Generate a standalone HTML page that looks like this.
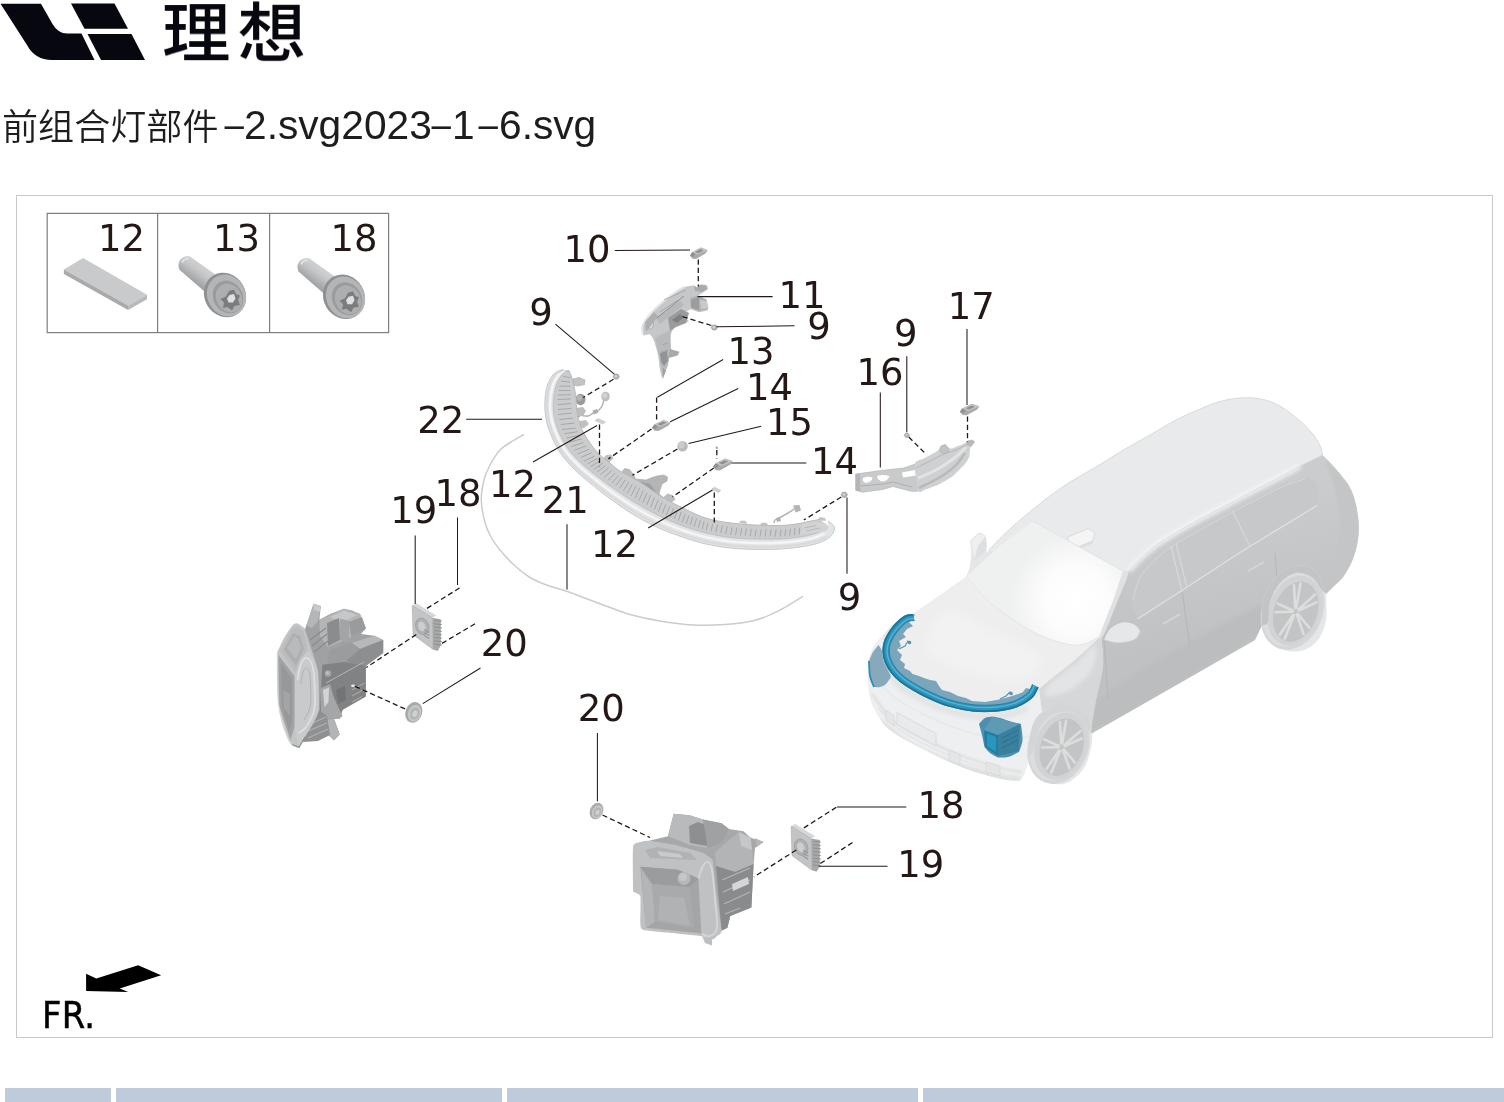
<!DOCTYPE html>
<html lang="zh-CN">
<head>
<meta charset="utf-8">
<title>前组合灯部件</title>
<style>
html,body{margin:0;padding:0;background:#fff;}
body{width:1504px;height:1102px;position:relative;overflow:hidden;font-family:"Liberation Sans","Noto Sans CJK SC",sans-serif;}
#logo{position:absolute;left:0;top:0;}
#brand{position:absolute;left:161.5px;top:-13px;font-family:"Liberation Sans","Noto Sans CJK SC",sans-serif;font-weight:500;font-size:68.5px;letter-spacing:7px;color:#07070f;line-height:100px;white-space:nowrap;transform:scaleY(0.95);transform-origin:0 0;}
#title{position:absolute;left:0;top:96px;height:56px;width:700px;color:#1d1d1f;}
#title span{position:absolute;top:0;line-height:56px;white-space:nowrap;}
#title .cjk{font-family:"Liberation Sans","Noto Sans CJK SC",sans-serif;font-weight:350;font-size:36.1px;top:4px;}
#title .lat{font-family:"Liberation Sans",sans-serif;font-size:40.7px;top:1px;}
#title .hy{font-family:"Liberation Sans",sans-serif;font-size:40.7px;top:1px;transform:scale(1.95,0.8);transform-origin:0 60%;}
#frame{position:absolute;left:16px;top:195px;width:1475px;height:841px;border:1px solid #c9c9c9;}
#dia{position:absolute;left:0;top:0;will-change:transform;}
#title,#brand{will-change:transform;}
.th{position:absolute;top:1088px;height:20px;background:#bfcbdb;}
svg text{font-family:"DejaVu Sans",sans-serif;font-size:37.7px;fill:#231815;}
</style>
</head>
<body>
<svg id="logo" width="160" height="70" viewBox="0 0 160 70">
<g fill="#07070f">
<path d="M0.5 3.7 L41 3.7 L52.5 24 Q58 33.5 67 33.5 L81.5 33.5 L94.5 60 L52 60 Q35 60 27 45 Z"/>
<path d="M71 3.5 L114.5 3.5 L128 28.7 L84.5 28.7 Z"/>
<path d="M87.5 34 L131.5 34 L145 60 L101 60 Z"/>
</g>
</svg>
<div id="brand">理想</div>
<div id="title"><span class="cjk" style="left:2px">前组合灯部件</span><span class="hy" style="left:221px">-</span><span class="lat" style="left:244px">2.svg2023</span><span class="hy" style="left:428px">-</span><span class="lat" style="left:452px">1</span><span class="hy" style="left:475px">-</span><span class="lat" style="left:499px">6.svg</span></div>
<div id="frame"></div>
<div class="th" style="left:5px;width:106px"></div>
<div class="th" style="left:116px;width:386px"></div>
<div class="th" style="left:507px;width:411px"></div>
<div class="th" style="left:922.5px;width:581px"></div>

<svg id="dia" width="1504" height="1102" viewBox="0 0 1504 1102">
<defs>
<filter id="b05" x="-10%" y="-10%" width="120%" height="120%"><feGaussianBlur stdDeviation="0.5"/></filter>
<filter id="b1" x="-10%" y="-10%" width="120%" height="120%"><feGaussianBlur stdDeviation="1"/></filter>
<filter id="b2" x="-20%" y="-20%" width="140%" height="140%"><feGaussianBlur stdDeviation="2.2"/></filter>
<filter id="b4" x="-30%" y="-30%" width="160%" height="160%"><feGaussianBlur stdDeviation="4.500"/></filter>
<filter id="b8" x="-40%" y="-40%" width="180%" height="180%"><feGaussianBlur stdDeviation="9"/></filter>
<radialGradient id="wsg" gradientUnits="userSpaceOnUse" cx="1076" cy="600" r="66"><stop offset="0" stop-color="#ffffff"/><stop offset="0.5" stop-color="#fcfcfc"/><stop offset="1" stop-color="#eff0f0"/></radialGradient>
<linearGradient id="sideg" gradientUnits="userSpaceOnUse" x1="1200" y1="500" x2="1230" y2="640"><stop offset="0" stop-color="#cbcccd"/><stop offset="1" stop-color="#c0c1c2"/></linearGradient>
<linearGradient id="shaftg" gradientUnits="userSpaceOnUse" x1="203" y1="264" x2="192" y2="279"><stop offset="0" stop-color="#d2d3d4"/><stop offset="0.45" stop-color="#c6c7c8"/><stop offset="1" stop-color="#a4a5a6"/></linearGradient>
</defs>
<g id="car"><clipPath id="carclip"><path d="M988.5 550.3C991.9 546.9 1001 537.1 1008.9 529.9C1016.8 522.6 1027 514.1 1036.1 506.8C1045.2 499.5 1054.3 492.4 1063.4 486.3C1072.5 480.2 1084.5 473.6 1090.6 470C1096.7 466.4 1094.3 468 1100 464.5C1105.7 461 1116.7 453.9 1125 449C1133.3 444.1 1141.7 439.8 1150 435C1158.3 430.2 1166.7 424.8 1175 420.5C1183.3 416.2 1192.5 412.2 1200 409C1207.5 405.8 1213.3 403.3 1220 401.5C1226.7 399.7 1233.3 398.4 1240 398C1246.7 397.6 1253.3 397.5 1260 398.8C1266.7 400.1 1273.3 402.3 1280 406C1286.7 409.7 1294.6 416.4 1300 421C1305.4 425.6 1309.2 429.7 1312.5 433.8C1315.8 437.9 1318.3 442 1320 445.5C1321.7 449 1322.1 453.4 1322.5 455C1323.8 456.2 1327.1 459.4 1330 462.5C1332.9 465.6 1336.7 469.6 1340 473.8C1343.3 478 1347.3 482.3 1350 487.5C1352.7 492.7 1354.5 498.8 1356 505C1357.5 511.2 1358.5 518.8 1358.8 525C1359 531.2 1358.5 536.7 1357.5 542.5C1356.5 548.3 1354.8 554.4 1352.5 560C1350.2 565.6 1347.1 571.4 1343.8 576C1340.5 580.6 1335.5 584.5 1332.5 587.5C1329.5 590.5 1327.1 592.9 1326 594C1326 598.3 1327.3 612.3 1326 620C1324.7 627.7 1321.8 634.9 1318 640C1314.2 645.1 1308.5 648.8 1303 650.5C1297.5 652.2 1290.5 651.8 1285 650C1279.5 648.2 1273.8 644.2 1270 640C1266.2 635.8 1263.3 627.5 1262 625L1255 640L1092.5 733C1092.2 735.5 1092.4 742.2 1091 748C1089.6 753.8 1087.8 762.2 1084 768C1080.2 773.8 1073.7 780 1068 782.5C1062.3 785 1055.3 784.8 1050 783C1044.7 781.2 1039.4 776.3 1036 772C1032.6 767.7 1030.6 759.5 1029.5 757C1028.8 759.6 1026.6 768.5 1025 772.5C1023.4 776.5 1020.8 779.6 1020 781C1016.7 780.6 1009.6 781 1000 778.8C990.4 776.5 975 772.3 962.5 767.5C950 762.7 937.1 756.2 925 750C912.9 743.8 898.3 736.7 890 730C881.7 723.3 878.5 716.7 875 710C871.5 703.3 869.9 698.2 868.8 690C867.7 681.8 868.5 665.8 868.5 661C869.2 658.8 870.7 652.2 873 648C875.3 643.8 878.8 640.2 882.5 636C886.2 631.8 890 626.1 895 622.5C900 618.9 909.6 615.8 912.5 614.5L966 577C966.7 575.2 969.1 570.8 970 566C970.9 561.2 971.3 552.2 971.5 548C971.7 543.8 970.3 543 971 541C971.7 539 974 537.3 975.5 536C977 534.7 978.7 533.2 980.3 533.3C981.9 533.4 984 534.5 985 536.5C986 538.5 986.2 542.6 986.3 545C986.4 547.4 985.4 549.9 985.8 551C986.2 552.1 988 551.4 988.5 551.5L988.5 550.3Z" /></clipPath>
<path d="M988.5 550.3C991.9 546.9 1001 537.1 1008.9 529.9C1016.8 522.6 1027 514.1 1036.1 506.8C1045.2 499.5 1054.3 492.4 1063.4 486.3C1072.5 480.2 1084.5 473.6 1090.6 470C1096.7 466.4 1094.3 468 1100 464.5C1105.7 461 1116.7 453.9 1125 449C1133.3 444.1 1141.7 439.8 1150 435C1158.3 430.2 1166.7 424.8 1175 420.5C1183.3 416.2 1192.5 412.2 1200 409C1207.5 405.8 1213.3 403.3 1220 401.5C1226.7 399.7 1233.3 398.4 1240 398C1246.7 397.6 1253.3 397.5 1260 398.8C1266.7 400.1 1273.3 402.3 1280 406C1286.7 409.7 1294.6 416.4 1300 421C1305.4 425.6 1309.2 429.7 1312.5 433.8C1315.8 437.9 1318.3 442 1320 445.5C1321.7 449 1322.1 453.4 1322.5 455C1323.8 456.2 1327.1 459.4 1330 462.5C1332.9 465.6 1336.7 469.6 1340 473.8C1343.3 478 1347.3 482.3 1350 487.5C1352.7 492.7 1354.5 498.8 1356 505C1357.5 511.2 1358.5 518.8 1358.8 525C1359 531.2 1358.5 536.7 1357.5 542.5C1356.5 548.3 1354.8 554.4 1352.5 560C1350.2 565.6 1347.1 571.4 1343.8 576C1340.5 580.6 1335.5 584.5 1332.5 587.5C1329.5 590.5 1327.1 592.9 1326 594C1326 598.3 1327.3 612.3 1326 620C1324.7 627.7 1321.8 634.9 1318 640C1314.2 645.1 1308.5 648.8 1303 650.5C1297.5 652.2 1290.5 651.8 1285 650C1279.5 648.2 1273.8 644.2 1270 640C1266.2 635.8 1263.3 627.5 1262 625L1255 640L1092.5 733C1092.2 735.5 1092.4 742.2 1091 748C1089.6 753.8 1087.8 762.2 1084 768C1080.2 773.8 1073.7 780 1068 782.5C1062.3 785 1055.3 784.8 1050 783C1044.7 781.2 1039.4 776.3 1036 772C1032.6 767.7 1030.6 759.5 1029.5 757C1028.8 759.6 1026.6 768.5 1025 772.5C1023.4 776.5 1020.8 779.6 1020 781C1016.7 780.6 1009.6 781 1000 778.8C990.4 776.5 975 772.3 962.5 767.5C950 762.7 937.1 756.2 925 750C912.9 743.8 898.3 736.7 890 730C881.7 723.3 878.5 716.7 875 710C871.5 703.3 869.9 698.2 868.8 690C867.7 681.8 868.5 665.8 868.5 661C869.2 658.8 870.7 652.2 873 648C875.3 643.8 878.8 640.2 882.5 636C886.2 631.8 890 626.1 895 622.5C900 618.9 909.6 615.8 912.5 614.5L966 577C966.7 575.2 969.1 570.8 970 566C970.9 561.2 971.3 552.2 971.5 548C971.7 543.8 970.3 543 971 541C971.7 539 974 537.3 975.5 536C977 534.7 978.7 533.2 980.3 533.3C981.9 533.4 984 534.5 985 536.5C986 538.5 986.2 542.6 986.3 545C986.4 547.4 985.4 549.9 985.8 551C986.2 552.1 988 551.4 988.5 551.5L988.5 550.3Z" fill="#e5e6e7"/>
<path d="M1322.5 455C1318.8 456.8 1307.9 461.9 1300 466C1292.1 470.1 1283.3 475.1 1275 479.5C1266.7 483.9 1258.3 488.1 1250 492.5C1241.7 496.9 1233.3 501.4 1225 505.8C1216.7 510.2 1208.3 514.3 1200 518.8C1191.7 523.3 1182.5 528.5 1175 533C1167.5 537.5 1160.8 541.7 1155 546C1149.2 550.3 1144.4 554.6 1140 558.8C1135.6 563 1131.6 567.5 1128.8 571C1126 574.5 1124 578.5 1123 580C1121.7 582.9 1118 590.8 1115 597.5C1112 604.2 1107.3 613.6 1105 620C1102.7 626.4 1101.7 633.3 1101 636C1101.3 640.8 1103.8 654.3 1103 665C1102.2 675.7 1098 688.7 1096 700C1094 711.3 1091.8 727.5 1091 733L1092.5 733L1255 640L1262 625C1262.2 620.8 1260.8 607.9 1263 600C1265.2 592.1 1269.7 583.2 1275 577.5C1280.3 571.8 1288.3 567.2 1295 566C1301.7 564.8 1309.8 565.3 1315 570C1320.2 574.7 1324.2 590 1326 594L1326 594C1327.1 592.9 1329.5 590.5 1332.5 587.5C1335.5 584.5 1340.5 580.6 1343.8 576C1347.1 571.4 1350.2 565.6 1352.5 560C1354.8 554.4 1356.5 548.3 1357.5 542.5C1358.5 536.7 1359 531.2 1358.8 525C1358.5 518.8 1357.5 511.2 1356 505C1354.5 498.8 1352.7 492.7 1350 487.5C1347.3 482.3 1343.3 478 1340 473.8C1336.7 469.6 1332.9 465.6 1330 462.5C1327.1 459.4 1323.8 456.2 1322.5 455Z" fill="url(#sideg)"/>
<g clip-path="url(#carclip)"><g filter="url(#b2)"><path d="M1110 690C1135.7 670.3 1224.7 623 1250 610C1275.3 597 1261 607.7 1262 612C1263 616.3 1283.7 616.7 1256 636C1228.3 655.3 1120.3 719 1096 728C1071.7 737 1084.3 709.7 1110 690Z" fill="#bcbdbe"/></g></g>
<g clip-path="url(#carclip)" filter="url(#b1)"><path d="M1326 462C1326.8 459.3 1336 469.7 1340 474C1344 478.3 1347.3 482.8 1350 488C1352.7 493.2 1354.7 498.8 1356 505C1357.3 511.2 1357.8 518.8 1358 525C1358.2 531.2 1358 536.2 1357 542C1356 547.8 1354.2 554.3 1352 560C1349.8 565.7 1347 571.7 1344 576C1341 580.3 1335.3 588.7 1334 586C1332.7 583.3 1335 571 1336 560C1337 549 1340.2 531.7 1340 520C1339.8 508.3 1337.3 499.7 1335 490C1332.7 480.3 1325.2 464.7 1326 462Z" fill="#c4c5c6"/></g>
<path d="M1137.5 619C1136.4 615.8 1130.6 607.3 1131 600C1131.4 592.7 1135.5 582.3 1140 575C1144.5 567.7 1152.6 561 1158 556C1163.4 551 1165.5 549.5 1172.5 545C1179.5 540.5 1190.4 534.4 1200 529C1209.6 523.6 1220 517.8 1230 512.5C1240 507.2 1250.8 501.7 1260 497C1269.2 492.3 1277.5 487.7 1285 484.5C1292.5 481.3 1299.8 478.4 1305 478C1310.2 477.6 1313.8 478.8 1316 482C1318.2 485.2 1318.1 494.5 1318.5 497L1317 505C1304.2 512.9 1263.7 537.5 1240 552.5C1216.3 567.5 1185.8 587.9 1175 595L1137.5 619Z" fill="#c7c8c9"/>
<path d="M1137.5 619L1175 595L1240 552.500L1317 505.500" fill="none" stroke="#dfe0e0" stroke-width="1.4"/>
<path d="M1133 600C1134.3 596 1136.8 583.2 1141 576C1145.2 568.8 1152.8 562 1158 557C1163.2 552 1165.5 550.5 1172.5 546C1179.5 541.5 1190.4 535.4 1200 530C1209.6 524.6 1220 518.8 1230 513.5C1240 508.2 1250.8 502.7 1260 498C1269.2 493.3 1277.5 488.7 1285 485.5C1292.5 482.3 1301.7 480.1 1305 479" fill="none" stroke="#d6d7d8" stroke-width="1"/>
<path d="M1171 545.500L1182 591.500M1176 543L1187 588M1232.500 511L1250 546.500" fill="none" stroke="#d9dadb" stroke-width="1.1"/>
<path d="M1182.5 592L1186 620L1190 646M1275 553L1277 580M1104 640L1108 700" fill="none" stroke="#b5b6b7" stroke-width="1"/>
<path d="M1163 624L1180 614M1248 571L1264 562" fill="none" stroke="#d4d5d6" stroke-width="2"/>
<path d="M988.5 550.3C991.9 546.9 1001 537.1 1008.9 529.9C1016.8 522.6 1027 514.1 1036.1 506.8C1045.2 499.5 1054.3 492.4 1063.4 486.3C1072.5 480.2 1084.5 473.6 1090.6 470C1096.7 466.4 1094.3 468 1100 464.5C1105.7 461 1116.7 453.9 1125 449C1133.3 444.1 1141.7 439.8 1150 435C1158.3 430.2 1166.7 424.8 1175 420.5C1183.3 416.2 1192.5 412.2 1200 409C1207.5 405.8 1213.3 403.3 1220 401.5C1226.7 399.7 1233.3 398.4 1240 398C1246.7 397.6 1253.3 397.5 1260 398.8C1266.7 400.1 1273.3 402.3 1280 406C1286.7 409.7 1294.6 416.4 1300 421C1305.4 425.6 1309.2 429.7 1312.5 433.8C1315.8 437.9 1318.3 442 1320 445.5C1321.7 449 1322.1 453.4 1322.5 455C1318.8 456.8 1307.9 461.9 1300 466C1292.1 470.1 1283.3 475.1 1275 479.5C1266.7 483.9 1258.3 488.1 1250 492.5C1241.7 496.9 1233.3 501.4 1225 505.8C1216.7 510.2 1208.3 514.3 1200 518.8C1191.7 523.3 1182.5 528.5 1175 533C1167.5 537.5 1160.8 541.7 1155 546C1149.2 550.3 1144.4 554.6 1140 558.8C1135.6 563 1131.6 567.5 1128.8 571C1126 574.5 1124 578.5 1123 580L988.5 550.3Z" fill="#e9eaeb"/>
<g filter="url(#b2)"><path d="M1300 466C1295.8 468.2 1283.3 475.1 1275 479.5C1266.7 483.9 1258.3 488.1 1250 492.5C1241.7 496.9 1233.3 501.4 1225 505.8C1216.7 510.2 1208.3 514.3 1200 518.8C1191.7 523.3 1182.5 528.5 1175 533C1167.5 537.5 1160.8 541.7 1155 546C1149.2 550.3 1144.4 554.6 1140 558.8C1135.6 563 1130.7 569 1128.8 571" fill="none" stroke="#f4f4f5" stroke-width="5"/></g>
<path d="M1322.5 455C1318.8 456.8 1307.9 461.9 1300 466C1292.1 470.1 1283.3 475.1 1275 479.5C1266.7 483.9 1258.3 488.1 1250 492.5C1241.7 496.9 1233.3 501.4 1225 505.8C1216.7 510.2 1208.3 514.3 1200 518.8C1191.7 523.3 1182.5 528.5 1175 533C1167.5 537.5 1160.8 541.7 1155 546C1149.2 550.3 1144.4 554.6 1140 558.8C1135.6 563 1131.6 567.5 1128.8 571C1126 574.5 1124 578.5 1123 580" fill="none" stroke="#d9dadb" stroke-width=".8"/>
<path d="M988.5 550.3C991.9 546.9 1001 537.1 1008.9 529.9C1016.8 522.6 1027 514.1 1036.1 506.8C1045.2 499.5 1054.3 492.4 1063.4 486.3C1072.5 480.2 1084.5 473.6 1090.6 470C1096.7 466.4 1094.3 468 1100 464.5C1105.7 461 1116.7 453.9 1125 449C1133.3 444.1 1141.7 439.8 1150 435C1158.3 430.2 1166.7 424.8 1175 420.5C1183.3 416.2 1192.5 412.2 1200 409C1207.5 405.8 1213.3 403.3 1220 401.5C1226.7 399.7 1233.3 398.4 1240 398C1246.7 397.6 1253.3 397.5 1260 398.8C1266.7 400.1 1273.3 402.3 1280 406C1286.7 409.7 1294.6 416.4 1300 421C1305.4 425.6 1309.2 429.7 1312.5 433.8C1315.8 437.9 1318.3 442 1320 445.5C1321.7 449 1322.1 453.4 1322.5 455" fill="none" stroke="#d4d5d6" stroke-width=".8"/>
<path d="M1068 537L1088 528.500L1095 533L1092.500 541L1079 546.500L1068.500 542Z" fill="#f5f5f6" stroke="#d6d7d8" stroke-width=".8"/>
<path d="M1068.500 542L1079 546.500L1092.500 541L1092.500 543.500L1079 549L1068.500 544.500Z" fill="#dcdddd"/>
<path d="M966.5 576.5C972.1 571.4 988.8 555.2 1000 546C1011.2 536.8 1027.9 525.6 1033.5 521.5L1123 571C1121.2 576.5 1116 593 1112 604C1108 615 1101.2 631.5 1099 637C1095.8 638.3 1087.3 644.3 1080 645C1072.7 645.7 1064.2 643.9 1055 641C1045.8 638.1 1035.8 633.9 1025 627.5C1014.2 621.1 999.8 611 990 602.5C980.2 594 970.4 580.8 966.5 576.5Z" fill="url(#wsg)"/>
<path d="M1033.500 521.500L1123 571" fill="none" stroke="#e3e4e5" stroke-width="1"/>
<path d="M966.5 576.5C970.4 580.8 980.2 594 990 602.5C999.8 611 1014.2 621.1 1025 627.5C1035.8 633.9 1045.8 638.1 1055 641C1064.2 643.9 1072.7 645.7 1080 645C1087.3 644.3 1095.8 638.3 1099 637" fill="none" stroke="#e4e5e6" stroke-width="1"/>
<path d="M1123 571C1123.8 571.5 1128.8 569.2 1128 574C1127.2 578.8 1121.7 590.7 1118 600C1114.3 609.3 1108.8 623.5 1106 630C1103.2 636.5 1101.8 637.5 1101 639L1099 637C1101.2 631.5 1108 615 1112 604C1116 593 1121.2 576.5 1123 571Z" fill="#e0e1e2"/>
<path d="M966.5 577C970.4 581.3 980.2 594.5 990 603C999.8 611.5 1014.2 621.6 1025 628C1035.8 634.4 1045.8 638.6 1055 641.5C1064.2 644.4 1072.7 646.1 1080 645.5C1087.3 644.9 1095.8 639.2 1099 638C1095 641.7 1083.2 653 1075 660C1066.8 667 1056 675.2 1050 680C1044 684.8 1040.8 687.5 1039 689C1037.5 691.2 1036.5 698.3 1030 702C1023.5 705.7 1009.7 709.5 1000 711C990.3 712.5 980.8 711.8 972 711C963.2 710.2 955.3 708.5 947 706C938.7 703.5 930.3 700.3 922 696C913.7 691.7 903.2 685.7 897 680C890.8 674.3 887.3 668 885 662C882.7 656 881.8 649.7 883 644C884.2 638.3 888.5 632.6 892 628C895.5 623.4 900.6 618.8 904 616.5C907.4 614.2 911.1 614.8 912.5 614.5L966.5 577Z" fill="#eeeeef"/>
<g filter="url(#b4)"><path d="M950 610C960.8 607.5 975 622.5 990 630C1005 637.5 1035 646.7 1040 655C1045 663.3 1033.3 677.5 1020 680C1006.7 682.5 975.8 675.8 960 670C944.2 664.2 926.7 655 925 645C923.3 635 939.2 612.5 950 610Z" fill="#f2f2f3"/></g>
<path d="M1099 638L1101 639C1101.3 643.3 1103.8 654.8 1103 665C1102.2 675.2 1098 688.7 1096 700C1094 711.3 1091.8 727.5 1091 733C1090 730 1088.5 719.7 1085 715C1081.5 710.3 1075.8 706.2 1070 705C1064.2 703.8 1054.7 706.3 1050 707.5C1045.3 708.7 1043.3 711.2 1042 712L1039 689C1040.8 687.5 1044 684.8 1050 680C1056 675.2 1066.8 667 1075 660C1083.2 653 1095 641.7 1099 638Z" fill="#d6d7d8"/>
<g filter="url(#b2)"><path d="M1095 645C1093 643.3 1087.5 653.5 1080 660C1072.5 666.5 1055.7 678 1050 684C1044.3 690 1042.7 695 1046 696C1049.3 697 1062.3 694.3 1070 690C1077.7 685.7 1087.8 677.5 1092 670C1096.2 662.5 1097 646.7 1095 645Z" fill="#e3e4e5"/></g>
<path d="M868.5 661C869.2 658.8 870.7 652.2 873 648C875.3 643.8 880.8 636.7 882.5 636C884.2 635.3 882.6 639.7 883 644C883.4 648.3 882.7 656 885 662C887.3 668 890.8 674.3 897 680C903.2 685.7 913.7 691.7 922 696C930.3 700.3 938.7 703.5 947 706C955.3 708.5 963.2 710.2 972 711C980.8 711.8 990.3 712.5 1000 711C1009.7 709.5 1023.5 705.7 1030 702C1036.5 698.3 1037.5 691.2 1039 689L1042 712C1040.8 713.3 1037.1 715.3 1035 720C1032.9 724.7 1030.4 733.8 1029.5 740C1028.6 746.2 1029.5 754.2 1029.5 757C1028.8 759.6 1026.6 768.5 1025 772.5C1023.4 776.5 1020.8 779.6 1020 781C1016.7 780.6 1009.6 781 1000 778.8C990.4 776.5 975 772.3 962.5 767.5C950 762.7 937.1 756.2 925 750C912.9 743.8 898.3 736.7 890 730C881.7 723.3 878.5 716.7 875 710C871.5 703.3 869.9 698.2 868.8 690C867.7 681.8 868.5 665.8 868.5 661Z" fill="#eeeff0"/>
<g clip-path="url(#carclip)"><g filter="url(#b2)"><path d="M886 668C888.3 671 893.5 680.5 900 686C906.5 691.5 916.7 696.8 925 701C933.3 705.2 941.7 708.5 950 711C958.3 713.5 966.7 715.2 975 716C983.3 716.8 991.2 717.3 1000 716C1008.8 714.7 1023.3 709.3 1028 708" fill="none" stroke="#e2e3e4" stroke-width="7"/></g>
<g filter="url(#b2)"><path d="M880 722C884.2 725.3 895 735.8 905 742C915 748.2 928.3 754.2 940 759C951.7 763.8 964.2 767.8 975 771C985.8 774.2 997.5 776.7 1005 778C1012.5 779.3 1017.5 778.8 1020 779" fill="none" stroke="#dadbdc" stroke-width="5"/></g></g>
<g filter="url(#b1)"><path d="M872 694C875.8 698.7 885.3 714 895 722C904.7 730 918.3 736.2 930 742C941.7 747.8 953.3 752.7 965 757C976.7 761.3 990.5 765.5 1000 768C1009.5 770.5 1018.3 771.3 1022 772" fill="none" stroke="#dcdddd" stroke-width="2.2"/></g>
<path d="M878 708C881.7 711.7 890.5 723.2 900 730C909.5 736.8 923.3 743.5 935 749C946.7 754.5 958.5 759 970 763C981.5 767 998.3 771.3 1004 773" fill="none" stroke="#e2e3e4" stroke-width="1.2"/>
<path d="M897 712.500L936 733.500L936 746L897 724.500Z" fill="#e9eaeb" stroke="#d6d7d8" stroke-width=".8"/>
<path d="M886 710L894 715.500L894 726L886 720Z M949 750L960 754.500L960 765L949 760.500Z M986 762L1000 766L1000 776L986 772Z" fill="#e4e5e6" stroke="#d4d5d6" stroke-width=".7"/>
<path d="M872 672C875 675.7 881.2 686.8 890 694C898.8 701.2 912.5 708.8 925 715C937.5 721.2 951.7 727 965 731C978.3 735 994.2 738.2 1005 739C1015.8 739.8 1025.8 736.5 1030 736" fill="none" stroke="#e7e8e9" stroke-width="1.5"/>
<path d="M974.2 560C973.8 558 972 551.2 971.5 548C971 544.8 970.3 543 971 541C971.7 539 974 537.3 975.5 536C977 534.7 978.7 533.2 980.3 533.3C981.9 533.4 984 534.5 985 536.5C986 538.5 986.2 542.6 986.3 545C986.4 547.4 985.9 550 985.8 551L974.2 560Z" fill="#efeff0" stroke="#dcdddd" stroke-width=".8"/>
<path d="M974.200 560L978 546L985 537L986.300 545L985.800 551Z" fill="#dedfe0"/>
<path d="M1104 640C1105 638.2 1107 631.9 1110 629C1113 626.1 1118 623.2 1122 622.5C1126 621.8 1131 622.9 1134 624.5C1137 626.1 1140 629.4 1140 632C1140 634.6 1137.7 638.2 1134 640C1130.3 641.8 1123 643 1118 643C1113 643 1106.3 640.5 1104 640Z" fill="#e6e7e8"/>
<path d="M1104 640C1106.3 640.5 1113 643 1118 643C1123 643 1130.3 641.8 1134 640C1137.7 638.2 1139 633.3 1140 632" fill="none" stroke="#c9cacb" stroke-width="1"/>
<g transform="rotate(20 1292.5 610)"><ellipse cx="1292.5" cy="610" rx="30.5" ry="41" fill="#d5d6d7"/><ellipse cx="1291.0" cy="610" rx="27.5" ry="38" fill="#dcdddd"/><ellipse cx="1294.5" cy="610" rx="25.5" ry="36" fill="#d2d3d4"/><ellipse cx="1296.0" cy="610.5" rx="21.5" ry="31" fill="#c3c4c5"/><path d="M1298.8 611.9L1314.2 620.9M1298.3 613.0L1311.2 628.8M1295.8 614.5L1295.0 639.5M1294.9 614.2L1289.0 637.6M1293.1 611.5L1277.2 618.0M1293.0 610.3L1276.5 609.0M1294.4 607.1L1285.4 586.2M1295.2 606.6L1291.0 582.5M1297.9 607.4L1308.3 588.0M1298.5 608.3L1312.4 594.7" stroke="#dcdddd" stroke-width="2.6" stroke-linecap="round" fill="none"/></g>
<g transform="rotate(20 1058.5 745.5)"><ellipse cx="1058.5" cy="745.5" rx="30" ry="39.5" fill="#d5d6d7"/><ellipse cx="1057.0" cy="745.5" rx="27" ry="36.5" fill="#dcdddd"/><ellipse cx="1060.5" cy="745.5" rx="25" ry="34.5" fill="#d2d3d4"/><ellipse cx="1062.0" cy="746.0" rx="21" ry="29.5" fill="#c3c4c5"/><path d="M1064.8 747.4L1079.7 755.9M1064.3 748.5L1076.8 763.3M1061.8 750.0L1061.0 773.5M1060.9 749.7L1055.2 771.7M1059.1 747.0L1043.6 753.1M1059.0 745.8L1043.0 744.6M1060.4 742.6L1051.7 722.9M1061.2 742.1L1057.1 719.4M1063.9 742.9L1074.0 724.6M1064.5 743.8L1077.9 731.0" stroke="#dcdddd" stroke-width="2.6" stroke-linecap="round" fill="none"/></g>
<path d="M1262 625C1262.2 620.8 1260.8 607.9 1263 600C1265.2 592.1 1269.7 583.2 1275 577.5C1280.3 571.8 1288.3 567.2 1295 566C1301.7 564.8 1309.8 565.3 1315 570C1320.2 574.7 1324.2 590 1326 594C1325.3 593.3 1324.3 592.8 1322 590C1319.7 587.2 1316.3 579.8 1312 577C1307.7 574.2 1301.3 572 1296 573C1290.7 574 1284.3 578.2 1280 583C1275.7 587.8 1272 595.5 1270 602C1268 608.5 1269.3 618.2 1268 622C1266.7 625.8 1263 624.5 1262 625Z" fill="#c3c4c5"/>
<path d="M1029.5 757C1029.5 754.2 1028.6 746.2 1029.5 740C1030.4 733.8 1031.6 725.4 1035 720C1038.4 714.6 1044.2 710 1050 707.5C1055.8 705 1064.2 703.8 1070 705C1075.8 706.2 1081.5 710.3 1085 715C1088.5 719.7 1090 730 1091 733C1089.8 731.2 1087.5 725.5 1084 722C1080.5 718.5 1075.3 713.2 1070 712C1064.7 710.8 1057 712.3 1052 715C1047 717.7 1043 722.5 1040 728C1037 733.5 1035.8 743.2 1034 748C1032.2 752.8 1030.2 755.5 1029.5 757Z" fill="#d4d5d6"/></g>
<g id="blue"><path d="M913 614C911.5 614.3 907.3 614 904 616C900.7 618 896.2 622 893 626C889.8 630 886.2 635.7 884.5 640C882.8 644.3 882.4 648.2 882.5 652C882.6 655.8 883.6 659.5 885 663C886.4 666.5 888.5 669.8 891 673C893.5 676.2 896.5 679.2 900 682C903.5 684.8 907.5 687.3 912 690C916.5 692.7 921.1 695.3 927 698C932.9 700.7 939.9 704 947.5 706.3C955.1 708.5 964.2 710.6 972.5 711.5C980.8 712.4 990.4 712.1 997.5 711.5C1004.6 710.9 1010.1 709.6 1015 708C1019.9 706.4 1023.8 704 1027 702C1030.2 700 1032.1 698.4 1034 696C1035.9 693.6 1037.8 688.9 1038.5 687.5L1036 687L1030 689L1026 688L1022.5 692.5L1012 696L1005 698L997 700L985 702L972 701L966 698L958 696L950 692L942 690L939 686L936 681L930 680L924 678L919 676L912.5 674L910 671L904 668L905 664L900 660L902 655L897 650L901 646L899 641L906 637L903 634L907 629L913 626L909 622L913 619L915 614.5Z" fill="#7aa5bb"/>
<path d="M913 614C911.5 614.3 907.3 614 904 616C900.7 618 896.2 622 893 626C889.8 630 886.2 635.7 884.5 640C882.8 644.3 882.4 648.2 882.5 652C882.6 655.8 883.6 659.5 885 663C886.4 666.5 888.5 669.8 891 673C893.5 676.2 896.5 679.2 900 682C903.5 684.8 907.5 687.3 912 690C916.5 692.7 921.1 695.3 927 698C932.9 700.7 939.9 704 947.5 706.3C955.1 708.5 964.2 710.6 972.5 711.5C980.8 712.4 990.4 712.1 997.5 711.5C1004.6 710.9 1010.1 709.6 1015 708C1019.9 706.4 1023.8 704 1027 702C1030.2 700 1032.1 698.4 1034 696C1035.9 693.6 1037.8 688.9 1038.5 687.5L1032.5 684.3C1031.9 685.6 1030.2 689.8 1028.7 691.8C1027.2 693.8 1026 694.6 1023.4 696.3C1020.7 697.9 1017.3 700.1 1012.9 701.5C1008.5 702.9 1003.6 704.2 996.9 704.7C990.3 705.3 981.1 705.6 973.2 704.7C965.3 703.9 956.7 701.9 949.4 699.8C942.2 697.6 935.5 694.4 929.8 691.8C924.2 689.2 919.7 686.7 915.5 684.2C911.2 681.6 907.5 679.3 904.3 676.7C901.1 674.2 898.5 671.5 896.3 668.8C894.2 666.1 892.5 663.3 891.3 660.4C890.1 657.6 889.4 654.8 889.3 651.9C889.2 648.9 889.3 646.1 890.8 642.5C892.3 639 895.5 633.7 898.3 630.3C901.1 626.8 904.8 623.4 907.5 621.8C910.2 620.2 913.3 620.8 914.5 620.6Z" fill="#2c93bb"/>
<path d="M913.2 614.8C911.7 615.1 907.7 614.7 904.4 616.7C901.2 618.6 896.8 622.6 893.6 626.5C890.4 630.4 887 636.1 885.2 640.3C883.5 644.5 883.2 648.2 883.3 652C883.4 655.7 884.4 659.3 885.7 662.7C887.1 666.1 889.2 669.4 891.6 672.5C894.1 675.6 897 678.6 900.5 681.4C904 684.2 907.9 686.7 912.4 689.3C916.9 692 921.4 694.6 927.3 697.3C933.2 700 940.2 703.3 947.7 705.5C955.3 707.8 964.3 709.8 972.6 710.7C980.9 711.6 990.4 711.3 997.4 710.7C1004.5 710.1 1009.9 708.8 1014.8 707.2C1019.6 705.7 1023.5 703.3 1026.6 701.3C1029.7 699.4 1031.5 697.9 1033.4 695.5C1035.2 693.1 1037.1 688.5 1037.8 687.1" fill="none" stroke="#1a759b" stroke-width="1.8"/>
<path d="M914 618.5C912.7 618.7 909.3 618.2 906.4 619.9C903.5 621.7 899.5 625.3 896.6 628.9C893.6 632.5 890.3 637.9 888.8 641.7C887.2 645.6 887 648.6 887.1 651.9C887.2 655.2 888 658.2 889.3 661.3C890.5 664.3 892.3 667.3 894.6 670.1C896.9 673 899.6 675.8 902.9 678.4C906.2 681.1 910 683.5 914.3 686C918.7 688.6 923.2 691.2 928.9 693.8C934.7 696.5 941.5 699.7 948.8 701.9C956.2 704.1 964.9 706.1 973 706.9C981 707.8 990.4 707.5 997.1 706.9C1003.9 706.4 1009 705.1 1013.6 703.6C1018.2 702.2 1021.7 699.9 1024.5 698.1C1027.3 696.4 1028.7 695.3 1030.4 693.1C1032 691 1033.8 686.6 1034.4 685.3" fill="none" stroke="#55b2d3" stroke-width="1.5"/>
<path d="M914.5 620.6C913.3 620.8 910.2 620.2 907.5 621.8C904.8 623.4 901.1 626.8 898.3 630.3C895.5 633.7 892.3 639 890.8 642.5C889.3 646.1 889.2 648.9 889.3 651.9C889.4 654.8 890.1 657.6 891.3 660.4C892.5 663.3 894.2 666.1 896.3 668.8C898.5 671.5 901.1 674.2 904.3 676.7C907.5 679.3 911.2 681.6 915.5 684.2C919.7 686.7 924.2 689.2 929.8 691.8C935.5 694.4 942.2 697.6 949.4 699.8C956.7 701.9 965.3 703.9 973.2 704.7C981.1 705.6 990.3 705.3 996.9 704.7C1003.6 704.2 1008.5 702.9 1012.9 701.5C1017.3 700.1 1020.7 697.9 1023.4 696.3C1026 694.6 1027.2 693.8 1028.7 691.8C1030.2 689.8 1031.9 685.6 1032.5 684.3" fill="none" stroke="#2381a8" stroke-width="1"/>
<path d="M899 649L905 646L908 641L910 644M1000 699L1006 696L1010 692L1012 695" fill="none" stroke="#5f93ad" stroke-width="1.2"/>
<circle cx="909.500" cy="642.500" r="1.8" fill="#5f93ad"/><circle cx="1011" cy="693.500" r="1.8" fill="#5f93ad"/>
<path d="M869 661C869.7 659.5 871.4 654.7 873 652C874.6 649.3 877.6 646.2 878.5 645C879.1 646 881.1 648.2 882 651C882.9 653.8 882.8 658.5 884 662C885.2 665.5 887.8 669.5 889 672C890.2 674.5 890.7 676.2 891 677C890.2 678.2 887.8 682.3 886 684C884.2 685.7 882 686.5 880 687C878 687.5 875 687 874 687C873.3 685.2 870.8 680.3 870 676C869.2 671.7 869.2 663.5 869 661Z" fill="#86a9bc"/>
<path d="M869 661C869.2 663.5 869.2 671.7 870 676C870.8 680.3 873.3 685.2 874 687" fill="none" stroke="#2a8fb6" stroke-width="1.8"/>
<path d="M979 724C980 723 982.8 719.2 985 718C987.2 716.8 990.8 716.8 992 716.5C993.3 716.8 996.7 717.1 1000 718C1003.3 718.9 1008.5 721 1012 722C1015.5 723 1019.5 723.7 1021 724C1021.2 726.7 1022.8 735.3 1022.5 740C1022.2 744.7 1019.6 750 1019 752C1017.2 752.8 1011.5 756.1 1008 757C1004.5 757.9 999.7 757.4 998 757.5C996.7 756.8 992.2 754.8 990 753C987.8 751.2 985.4 748 984.5 747C984.1 745 982.9 738.8 982 735C981.1 731.2 979.5 725.8 979 724Z" fill="#4d90ae"/>
<path d="M984 730L998 735L998 756L985 747Z" fill="#1d7ea6"/>
<path d="M987 733.500L996 737L996 752L987 746Z" fill="#2c95bd"/>
<path d="M984 730L992 717L1020 724L998 735Z" fill="#5f9ab5"/>
<path d="M998 735L1020 724L1019 751L998 756Z" fill="#3b7f9f"/>
<path d="M1002 738L1018 730M1002 743L1018 735M1002 748L1018 740" stroke="#2d6f8e" stroke-width="1" fill="none"/></g>

<g id="strip"><path d="M573 379L579 377.500L585 380L584.500 384.500L578 386L573 385Z" fill="#c2c3c4" stroke="#a9aaab" stroke-width=".6"/>
<ellipse cx="580.500" cy="399.500" rx="5" ry="5.800" fill="#9b9c9d"/><ellipse cx="579.5" cy="398" rx="2.6" ry="3" fill="#b4b5b6"/><ellipse cx="577.500" cy="413" rx="3.6" ry="4.500" fill="#a3a4a5"/>
<path d="M576 408L583 407L586 411L583 416L577 416Z" fill="#bdbebf"/>
<path d="M579 421L586 420L589 424L584 428L580 428Z" fill="#c0c1c2"/>
<path d="M603 460L606 455.500L611.500 455L613 458.500L609 462L612 466L606 466Z" fill="#bfc0c1" stroke="#a5a6a7" stroke-width=".5"/>
<path d="M622 472L624.500 468.500L629.500 469.500L634 475L636 480L628 480Z" fill="#b9babb" stroke="#a0a1a2" stroke-width=".5"/>
<path d="M636 479L646 480L652 477.500L657 476L664 475L667.500 477L667 481L662 484L660 490L659 494L664 498L650 497L640 488Z" fill="#b4b5b6" stroke="#9c9d9e" stroke-width=".5"/>
<path d="M638 481L650 484L656 492L648 494L640 488Z" fill="#9fa0a1"/>
<path d="M664 497L667.500 494L673 495.500L675 499.500L670 503Z" fill="#bcbdbe" stroke="#a3a4a5" stroke-width=".5"/>
<path d="M739 523L741 520.500L746 521L747 524Z M760 525L762 522.500L767 523L768 526Z M817 520L820 517L825 518L826 521Z" fill="#c3c4c5"/>
<path d="M566 370.5C565.2 371.4 562.7 373.4 561 376C559.3 378.6 557.2 382 556 386C554.8 390 553.8 395.2 553.5 400C553.2 404.8 553.2 410 554 415C554.8 420 555.8 424.5 558 430C560.2 435.5 563.7 442.5 567.5 448C571.3 453.5 575.9 458.2 581 463C586.1 467.8 593.2 473.2 598 477C602.8 480.8 604 481.8 610 486C616 490.2 626.1 497.2 634 502C641.9 506.8 649.6 511.1 657.5 515C665.4 518.9 673.4 522.5 681.5 525.5C689.6 528.5 697.8 531 706 533C714.2 535 722.3 536.5 730.5 537.5C738.7 538.5 746.8 538.8 755 539C763.2 539.2 772.6 539.3 780 539C787.4 538.7 793.8 537.8 799.5 537C805.2 536.2 810.1 535.1 814 534C817.9 532.9 820.5 531.7 823 530.5C825.5 529.3 828 527.6 829 527L820 519.4C818.5 519.7 814.7 520.3 811 521C807.3 521.7 803.2 523 798 523.7C792.8 524.5 787.2 525.3 780 525.5C772.8 525.7 763.2 525.4 755 525C746.8 524.6 739 524.1 731 523C723 521.9 714.7 520.8 707 518.5C699.3 516.2 692.5 512.6 685 509C677.5 505.4 669.5 501.5 662 497C654.5 492.5 647 486.3 640 482C633 477.7 624.8 474 620 471C615.2 468 614.7 467 611 464C607.3 461 601.8 457 598 453C594.2 449 590.8 444.3 588 440C585.2 435.7 582.8 431.7 581 427C579.2 422.3 577.8 416.8 577 412C576.2 407.2 576.5 402.3 576 398C575.5 393.7 574.7 389.3 574 386C573.3 382.7 572.8 380.5 572 378C571.2 375.5 569.5 372.2 569 371Z" fill="#cbcccd"/>
<path d="M566.5 370.6L569.4 371.2M563.0 376.4L570.1 377.7M561.1 381.2L570.1 382.0M559.2 386.0L570.2 386.3M558.7 390.5L570.4 390.5M558.1 395.1L570.7 394.7M557.5 399.6L570.9 398.9M557.7 404.6L571.2 403.6M557.9 409.5L571.5 408.4M558.1 414.5L571.8 413.1M559.5 419.5L573.1 418.1M560.8 424.5L574.4 423.1M562.1 429.5L575.8 428.1M564.4 433.7L577.7 431.7M566.7 438.0L579.6 435.3M568.9 442.3L581.5 438.9M571.2 446.6L583.5 442.5M574.4 450.2L586.2 445.9M577.6 453.9L589.0 449.3M580.8 457.5L591.7 452.7M584.1 461.2L594.4 456.1M587.3 463.9L597.3 458.5M590.6 466.6L600.1 460.8M593.8 469.3L602.9 463.2M597.1 472.0L605.7 465.6M600.3 474.7L608.6 467.9M604.2 477.5L611.8 470.5M608.0 480.4L615.1 473.0M611.8 483.3L618.4 475.5M615.7 485.8L621.9 477.6M619.6 488.3L625.4 479.6M623.4 490.9L629.0 481.7M627.3 493.4L632.5 483.8M631.2 495.9L636.0 485.8M635.1 498.4L639.5 487.9M639.0 500.6L643.3 490.3M642.8 502.9L647.0 492.7M646.7 505.1L650.7 495.1M650.6 507.3L654.5 497.5M654.4 509.5L658.2 499.9M658.3 511.8L661.9 502.3M662.3 513.6L665.8 504.3M666.2 515.4L669.7 506.2M670.2 517.1L673.6 508.1M674.2 518.9L677.5 510.1M678.2 520.7L681.3 512.0M682.1 522.5L685.2 513.9M686.1 523.8L689.0 515.4M690.1 525.1L692.8 516.9M694.2 526.5L696.6 518.4M698.2 527.8L700.4 519.9M702.2 529.1L704.1 521.4M706.2 530.4L707.9 522.9M711.1 531.3L712.7 523.8M715.9 532.2L717.6 524.7M720.8 533.1L722.4 525.6M725.7 534.0L727.2 526.5M730.6 534.9L732.1 527.4M735.5 535.2L736.9 527.7M740.4 535.5L741.7 528.1M745.2 535.8L746.5 528.5M750.1 536.2L751.4 528.8M755.0 536.5L756.2 529.2M760.0 536.5L761.2 529.3M765.0 536.5L766.2 529.4M770.0 536.5L771.2 529.4M775.0 536.6L776.2 529.5M780.0 536.6L781.2 529.6M784.8 536.1L785.8 529.1M789.6 535.6L790.4 528.7M794.4 535.1L795.0 528.2M799.2 534.6L799.6 527.7M804.0 533.6L804.1 526.8M808.7 532.6L808.6 525.9M813.5 531.7L813.0 524.9M818.0 530.1L817.5 523.9" fill="none" stroke="#a2a3a4" stroke-width="1" opacity=".9"/>
<path d="M569 371C569.5 372.2 571.2 375.5 572 378C572.8 380.5 573.3 382.7 574 386C574.7 389.3 575.5 393.7 576 398C576.5 402.3 576.2 407.2 577 412C577.8 416.8 579.2 422.3 581 427C582.8 431.7 585.2 435.7 588 440C590.8 444.3 594.2 449 598 453C601.8 457 607.3 461 611 464C614.7 467 615.2 468 620 471C624.8 474 633 477.7 640 482C647 486.3 654.5 492.5 662 497C669.5 501.5 677.5 505.4 685 509C692.5 512.6 699.3 516.2 707 518.5C714.7 520.8 723 521.9 731 523C739 524.1 746.8 524.6 755 525C763.2 525.4 772.8 525.7 780 525.5C787.2 525.3 792.8 524.5 798 523.7C803.2 523 807.3 521.7 811 521C814.7 520.3 818.5 519.7 820 519.4" fill="none" stroke="#b5b6b7" stroke-width=".9"/>
<path d="M563 369.5C561.5 370.2 556.3 371.4 553.8 374C551.2 376.6 549 380.7 547.5 385C546 389.3 545.3 394.8 545 400C544.7 405.2 544.8 410.6 545.6 416C546.4 421.4 547.6 426.4 550 432.5C552.4 438.6 555.8 446.2 560 452.5C564.2 458.8 569.6 464.6 575 470C580.4 475.4 587.5 480.8 592.5 485C597.5 489.2 598.8 490.4 605 495C611.2 499.6 621.7 507.3 630 512.5C638.3 517.7 646.7 522.3 655 526.2C663.3 530.2 671.7 533.3 680 536.2C688.3 539.2 696.7 541.8 705 543.8C713.3 545.7 721.7 547.1 730 548C738.3 548.9 746.7 549.2 755 549.4C763.3 549.6 772.5 549.4 780 549C787.5 548.6 794 547.9 800 547C806 546.1 811.4 545.1 816 543.8C820.6 542.4 824.6 540.7 827.5 538.8C830.4 536.8 832.4 534.1 833.5 532C834.6 529.9 834.9 527.8 834 526C833.1 524.2 828.8 520.8 828 521C827.2 521.2 828.8 526 829 527L823 530.5C821.5 531.1 817.9 532.9 814 534C810.1 535.1 805.2 536.2 799.5 537C793.8 537.8 787.4 538.7 780 539C772.6 539.3 763.2 539.2 755 539C746.8 538.8 738.7 538.5 730.5 537.5C722.3 536.5 714.2 535 706 533C697.8 531 689.6 528.5 681.5 525.5C673.4 522.5 665.4 518.9 657.5 515C649.6 511.1 641.9 506.8 634 502C626.1 497.2 616 490.2 610 486C604 481.8 602.8 480.8 598 477C593.2 473.2 586.1 467.8 581 463C575.9 458.2 571.3 453.5 567.5 448C563.7 442.5 560.2 435.5 558 430C555.8 424.5 554.8 420 554 415C553.2 410 553.2 404.8 553.5 400C553.8 395.2 554.8 390 556 386C557.2 382 559.3 378.6 561 376C562.7 373.4 565.2 371.4 566 370.5Z" fill="#e3e4e5"/>
<path d="M564.9 370.1C563.8 371 560.3 372.7 558.2 375.2C556.2 377.8 554.1 381.5 552.8 385.6C551.4 389.7 550.6 395 550.3 400C549.9 405 550 410.2 550.8 415.4C551.6 420.5 552.7 425.2 555 430.9C557.3 436.7 560.7 443.9 564.6 449.7C568.6 455.5 573.5 460.6 578.7 465.7C583.9 470.7 591 476.1 595.9 480C600.8 484 602 485.1 608.1 489.4C614.2 493.7 624.4 501 632.5 506C640.6 511 648.5 515.3 656.5 519.3C664.6 523.2 672.8 526.6 680.9 529.6C689.1 532.6 697.4 535.1 705.6 537.1C713.9 539.1 722.1 540.5 730.3 541.5C738.5 542.5 746.7 542.7 755 543C763.3 543.2 772.6 543.2 780 542.8C787.4 542.4 793.9 541.6 799.7 540.8C805.5 540 810.6 538.9 814.8 537.7C818.9 536.5 823.1 534.3 824.7 533.6" fill="none" stroke="#f5f5f6" stroke-width="2.4"/>
<path d="M563.8 369.8C562.4 370.5 557.9 371.9 555.6 374.5C553.2 377.1 551 381 549.6 385.2C548.2 389.5 547.4 394.9 547.1 400C546.8 405.1 546.9 410.4 547.7 415.8C548.5 421.1 549.6 425.9 552 431.9C554.4 437.8 557.8 445.3 561.9 451.4C566 457.4 571.2 463 576.5 468.2C581.8 473.5 588.9 478.9 593.9 483C598.8 487.1 600.1 488.3 606.2 492.8C612.4 497.2 622.8 504.8 631 509.9C639.2 515 647.4 519.5 655.6 523.4C663.9 527.4 672.1 530.6 680.4 533.6C688.6 536.5 697 539.1 705.2 541.1C713.5 543 721.8 544.4 730.1 545.4C738.4 546.3 746.7 546.6 755 546.8C763.3 547 772.5 546.9 780 546.5C787.5 546.1 794 545.4 799.9 544.5C805.8 543.6 811.1 542.6 815.5 541.3C819.9 540 824.6 537.5 826.4 536.7" fill="none" stroke="#d9dadb" stroke-width="2.2"/>
<path d="M566 370.5C565.2 371.4 562.7 373.4 561 376C559.3 378.6 557.2 382 556 386C554.8 390 553.8 395.2 553.5 400C553.2 404.8 553.2 410 554 415C554.8 420 555.8 424.5 558 430C560.2 435.5 563.7 442.5 567.5 448C571.3 453.5 575.9 458.2 581 463C586.1 467.8 593.2 473.2 598 477C602.8 480.8 604 481.8 610 486C616 490.2 626.1 497.2 634 502C641.9 506.8 649.6 511.1 657.5 515C665.4 518.9 673.4 522.5 681.5 525.5C689.6 528.5 697.8 531 706 533C714.2 535 722.3 536.5 730.5 537.5C738.7 538.5 746.8 538.8 755 539C763.2 539.2 772.6 539.3 780 539C787.4 538.7 793.8 537.8 799.5 537C805.2 536.2 810.1 535.1 814 534C817.9 532.9 821.5 531.1 823 530.5" fill="none" stroke="#b9babb" stroke-width=".9"/>
<path d="M563 369.5C561.5 370.2 556.3 371.4 553.8 374C551.2 376.6 549 380.7 547.5 385C546 389.3 545.3 394.8 545 400C544.7 405.2 544.8 410.6 545.6 416C546.4 421.4 547.6 426.4 550 432.5C552.4 438.6 555.8 446.2 560 452.5C564.2 458.8 569.6 464.6 575 470C580.4 475.4 587.5 480.8 592.5 485C597.5 489.2 598.8 490.4 605 495C611.2 499.6 621.7 507.3 630 512.5C638.3 517.7 646.7 522.3 655 526.2C663.3 530.2 671.7 533.3 680 536.2C688.3 539.2 696.7 541.8 705 543.8C713.3 545.7 721.7 547.1 730 548C738.3 548.9 746.7 549.2 755 549.4C763.3 549.6 772.5 549.4 780 549C787.5 548.6 794 547.9 800 547C806 546.1 811.4 545.1 816 543.8C820.6 542.4 824.6 540.7 827.5 538.8C830.4 536.8 832.4 534.1 833.5 532C834.6 529.9 834.9 527.8 834 526C833.1 524.2 829 521.8 828 521" fill="none" stroke="#c6c7c8" stroke-width="1"/>
<path d="M802 524L815 521.500L825 523L829 527L826 531L812 533L800 535Z" fill="#d2d3d4"/>
<path d="M804 528L816 525.500M806 531L820 528" stroke="#b2b3b4" stroke-width=".8" fill="none"/>
<path d="M582 415.5C583 415.6 586 416.5 588 416C590 415.5 592.2 413.5 594 412.5C595.8 411.5 597.6 411.2 599 410C600.4 408.8 601.7 406.8 602.5 405C603.3 403.2 603.8 400 604 399" fill="none" stroke="#b5b6b7" stroke-width="1.6"/>
<ellipse cx="605.500" cy="396.500" rx="4.3" ry="4.800" fill="#bdbebf"/><ellipse cx="604.8" cy="395.500" rx="2.5" ry="2.800" fill="#d0d1d2"/>
<path d="M592.500 410.500L597 409L598.500 412.500L594 414.500Z" fill="#adaeaf"/>
<path d="M774 523C774.2 522.5 773.8 521 775 520C776.2 519 778.8 518.2 781 517C783.2 515.8 785.8 514.3 788 513C790.2 511.7 793 509.7 794 509" fill="none" stroke="#b5b6b7" stroke-width="1.5"/>
<path d="M793 505.500L799.500 505L801 510.500L795.500 512.500Z" fill="#b3b4b5"/>
<path d="M776 518L780 517L781 521L777 522Z" fill="#b0b1b2"/></g>
<g id="smalls"><path d="M523.8 434.5C521.7 435.8 515 439.4 511 442C507 444.6 503.5 446.2 500 450C496.5 453.8 492.7 460 490 465C487.3 470 485.4 474.2 484 480C482.6 485.8 481.1 492.9 481.3 500C481.5 507.1 483.4 516.3 485 522.5C486.6 528.7 488.5 532.4 491 537C493.5 541.6 496.3 545.5 500 550C503.7 554.5 508 559.4 513 564C518 568.6 524.2 573.9 530 577.5C535.8 581.1 541.8 583.2 548 585.5C554.2 587.8 559.2 588.6 567.5 591.5C575.8 594.4 587.6 599.2 598 603C608.4 606.8 619.7 611.5 630 614.5C640.3 617.5 649.6 619.2 660 621C670.4 622.8 681.7 624.4 692.5 625C703.3 625.6 714.4 625.3 725 624.5C735.6 623.7 746.8 622.4 756 620C765.2 617.6 772.2 614 780 610C787.8 606 799.2 598.6 803 596.3" fill="none" stroke="#cbcccd" stroke-width="1.5"/>
<path d="M690 255.8L692.1 252.3L700.9 247.5L707.5 250L705.8 253.2L696.1 259L692.6 258.8Z" fill="#a9aaab"/><path d="M692.1 252.3L700.9 247.5L707.5 250L697.9 254.6Z" fill="#c3c4c5"/><path d="M695.2 251.9L700.5 249.1L703.6 250.4L698.4 253.2Z" fill="#8f9091"/><path d="M690 255.8L692.1 252.3L695.2 253.8L693.5 256.9Z" fill="#909192"/>
<path d="M684.4 287C686.7 286.2 692.5 285.4 694 285.5C695.5 285.6 696.3 287.6 697 287.5C697.7 287.4 698.9 284.8 700 284.5C701.1 284.2 705.5 284.5 706.5 285C707.5 285.5 708.3 288.2 708 289C707.7 289.8 705.1 291.2 704 292C702.9 292.8 698.3 295.1 698.5 296C698.7 296.9 704.9 298.6 706 299.5C707.1 300.4 707.3 302.2 707.5 303.5C707.7 304.8 709 309 708 310C707 311 701 312.1 699 312C697 311.9 692.6 309.5 691 309.5C689.4 309.5 687.1 311.2 686 312C684.9 312.8 681.4 315.2 681.7 316.2C682 317.2 688 319.5 688.5 320.3C689 321.1 687.6 322.2 686 323C684.4 323.8 676.8 325.5 675 327C673.2 328.5 671.3 332.6 670.8 335.2C670.3 337.8 670 346.8 671 348.8C672 350.8 678.2 350.8 679 351.6C679.8 352.4 678.9 354.8 677.6 355.6C676.3 356.4 669.2 357.4 668 358.5C666.8 359.6 668.4 363.4 668 365C667.6 366.6 665.6 370.3 665 372C664.4 373.7 663.3 379 662.7 378.8C662.1 378.6 660.6 372.9 660 370C659.4 367.1 658.7 358.5 658 355C657.3 351.5 655 343.5 654 341C653 338.5 651.3 335.2 650 334.5C648.7 333.8 643.9 336.1 643 335.2C642.1 334.3 641.8 328.9 642.2 327C642.6 325.1 644.8 321.2 646.3 319C647.8 316.8 652.8 311.3 655 309C657.2 306.7 662.6 302 665 300C667.4 298 672.7 294.1 675 292.5C677.3 290.9 682.1 287.8 684.4 287Z" fill="#c6c7c8"/>
<path d="M684.4 287C682.8 287.9 678.2 290.3 675 292.5C671.8 294.7 668.3 297.2 665 300C661.7 302.8 658.1 305.8 655 309C651.9 312.2 648.4 316 646.3 319C644.2 322 642.8 324.3 642.2 327C641.7 329.7 642.9 333.7 643 335" fill="none" stroke="#e4e4e5" stroke-width="2"/>
<path d="M690 298L698 295.5L706.5 299.5L707.5 309L699 311.5L691 308Z" fill="#b1b2b3"/>
<path d="M700 300L707 301L707.5 308L701 309Z" fill="#c9cacb"/>
<path d="M694 286L697 287.5L700 285L706 285.5L707 289L702 292L695 291Z" fill="#a9aaab"/>
<ellipse cx="650" cy="324" rx="3.5" ry="5" fill="#dcdcdd" stroke="#a4a5a6" stroke-width=".8"/>
<path d="M656 318L672 306L680 301L684 305L670 316L660 324Z" fill="#b7b8b9"/>
<path d="M655 338L670 330L671 348L668 365L663 377L659 356Z" fill="#b9babb"/>
<path d="M670 349L679 352L677 355.5L668 358Z" fill="#a7a8a9"/>
<path d="M664 300L686 290M660 312L678 300M662 345L668 343M661 352L668 350M663 360L667 359" fill="none" stroke="#9fa0a1" stroke-width=".8"/>
<path d="M668 318L681 309L689 313L686 323L676 327L670 331Z" fill="#9a9b9c"/>
<path d="M672 320L680 314L684 317L677 323Z" fill="#7f8081"/>
<path d="M645 322L654 312L658 316L650 327L646 332Z" fill="#aeafb0"/>
<path d="M691 300L699 297L699 310L691 307.5Z" fill="#9b9c9d"/>
<path d="M660 353L667 351L668 361L664 366L661 362Z" fill="#929394"/>
<path d="M657 318L684 296" stroke="#8e8f90" stroke-width="1" fill="none"/>
<path d="M662.500 367L666 371L663 378Z" fill="#a0a1a2"/>
<path d="M717.5 327.5L715.9 330L712.7 330L711.1 327.5L712.7 325L715.9 325Z" fill="#b0b1b2" stroke="#939495" stroke-width=".6"/><circle cx="714.0" cy="327.2" r="1.344" fill="#d0d1d2"/>
<path d="M619.4 376.6L617.8 379.1L614.6 379.1L613 376.6L614.6 374.1L617.8 374.1Z" fill="#b0b1b2" stroke="#939495" stroke-width=".6"/><circle cx="615.9000000000001" cy="376.3" r="1.344" fill="#d0d1d2"/>
<path d="M847.5 494.8L845.9 497.3L842.7 497.3L841.1 494.8L842.7 492.3L845.9 492.3Z" fill="#b0b1b2" stroke="#939495" stroke-width=".6"/><circle cx="844.0" cy="494.5" r="1.344" fill="#d0d1d2"/>
<path d="M909.4 435.3L908.1 437.3L905.5 437.3L904.2 435.3L905.5 433.3L908.1 433.3Z" fill="#b0b1b2" stroke="#939495" stroke-width=".6"/><circle cx="906.5" cy="435.0" r="1.092" fill="#d0d1d2"/>
<path d="M652 427.9L654.2 424.6L663.5 420L670.5 422.4L668.6 425.5L658.5 431L654.8 430.8Z" fill="#a9aaab"/><path d="M654.2 424.6L663.5 420L670.5 422.4L660.3 426.8Z" fill="#c3c4c5"/><path d="M657.5 424.2L663.1 421.5L666.4 422.8L660.9 425.5Z" fill="#8f9091"/><path d="M652 427.9L654.2 424.6L657.5 426.1L655.7 429Z" fill="#909192"/>
<path d="M713 467.1L715.3 463.5L725.1 458.5L732.5 461.1L730.5 464.5L719.8 470.5L715.9 470.3Z" fill="#a9aaab"/><path d="M715.3 463.5L725.1 458.5L732.5 461.1L721.8 465.9Z" fill="#c3c4c5"/><path d="M718.9 463.1L724.7 460.2L728.2 461.5L722.4 464.5Z" fill="#8f9091"/><path d="M713 467.1L715.3 463.5L718.9 465.1L716.9 468.3Z" fill="#909192"/>
<circle cx="716.8" cy="447.8" r="1.3" fill="#a9aaab"/>
<circle cx="682.500" cy="446.300" r="5.2" fill="#b9babb"/><circle cx="681.3" cy="445" r="3.2" fill="#cbcccd"/>
<path d="M595 420.5L598.1 418.6L605.5 421.9L602.6 424.1Z" fill="#d0d1d2" stroke="#b5b6b7" stroke-width=".5"/>
<path d="M711.8 489.1L714.5 487.3L720.8 490.4L718.3 492.5Z" fill="#d0d1d2" stroke="#b5b6b7" stroke-width=".5"/>
<path d="M959.8 412.1L962.1 408.6L971.9 403.8L979.3 406.3L977.3 409.6L966.6 415.3L962.7 415.1Z" fill="#a9aaab"/><path d="M962.1 408.6L971.9 403.8L979.3 406.3L968.6 410.9Z" fill="#c3c4c5"/><path d="M965.6 408.2L971.5 405.4L975 406.7L969.2 409.6Z" fill="#8f9091"/><path d="M959.8 412.1L962.1 408.6L965.6 410.1L963.7 413.2Z" fill="#909192"/>
<path d="M855.7 474.1L878.6 470.8L903.4 468L916.7 463.6L921 470L924.4 489.4L916.7 491.3L911 491.3L892.9 486.5L883.4 489.4L862.4 492.2L855.7 490.3Z" fill="#c9cacb" stroke="#b0b1b2" stroke-width=".6"/>
<path d="M855.7 474.1L860 473.5L860.5 491.5L855.7 490.3Z" fill="#b4b5b6"/>
<path d="M863 478Q868 476 872.500 477.500Q872 482 866 483Q862 482 863 478Z M877 476Q883 474 889.500 476Q888 481 882 481.500Q877 480 877 476Z M902 472.500L915 470L916 475.500L903 477.500Z" fill="#fff"/>
<path d="M861 486L884 484L893 482L912 487" fill="none" stroke="#aeafb0" stroke-width="1"/>
<path d="M914.8 463.6C915.4 460.3 922.6 459.3 925 458C927.4 456.7 937.1 451.5 938.7 450.3C940.3 449.1 940.3 446.6 941 446C941.7 445.4 944.5 444.4 945.3 444.6C946.1 444.8 948.1 448.1 949.1 448.4C950.1 448.7 953.4 447.9 954.9 447.4C956.4 446.9 963.1 444.3 964.4 443.6C965.7 442.9 967.2 440.9 968 440.5C968.8 440.1 971.3 439.7 972 439.8C972.7 439.9 974.9 441.1 974.9 441.7C974.9 442.3 972.5 445.3 972 446C971.5 446.7 970.4 447.3 970.1 448.4C969.8 449.5 969.7 455.4 969.2 457C968.7 458.6 966 462.8 965 464C964 465.2 960.8 468.2 959.6 469.4C958.4 470.6 954.4 474.9 953 476C951.6 477.1 946.8 479.9 945.3 480.8C943.8 481.7 939.4 484.3 938 485C936.6 485.7 932.4 487 931 487.5C929.6 488 925.2 489.6 924 490C922.8 490.4 919.5 493.9 918.6 491.3C917.7 488.7 914.2 466.9 914.8 463.6Z" fill="#cfd0d1"/>
<path d="M919 488C921 487 926.7 484.3 931 482C935.3 479.7 940.7 477 945 474C949.3 471 953.7 467.5 957 464C960.3 460.5 963.7 454.8 965 453" fill="none" stroke="#b8b9ba" stroke-width="2.5"/>
<path d="M918 478C920.3 477 927.3 474.3 932 472C936.7 469.7 941.7 466.8 946 464C950.3 461.2 954.7 457.8 958 455C961.3 452.2 964.7 448.3 966 447" fill="none" stroke="#e2e3e4" stroke-width="3"/>
<path d="M916 468C918.3 466.8 925.3 463.3 930 461C934.7 458.7 939.7 455.8 944 454C948.3 452.2 952 451.7 956 450C960 448.3 966 445 968 444" fill="none" stroke="#b5b6b7" stroke-width="1"/>
<path d="M939 450.5L941 446L945.3 444.6L949 448.5L948 452L943 454Z" fill="#c1c2c3" stroke="#a9aaab" stroke-width=".5"/>
<path d="M966 441.5L972 439.8L974.9 441.7L971 446.5L967 445Z" fill="#b7b8b9"/></g>
<g id="hl"><path d="M306.3 625.5L313.6 603.7L320.8 605.9L319.4 619.7L330 614L344 608.8L352 610.5L360 613.9L363 621L365.8 628.4L361 634L374.5 635.7L383.2 640L383.2 653.1L365.8 666.1L365.8 696.6L342.6 709.7L339.7 718.4L334 719L339.7 734.4L333.9 740.2L328 734.4L326 722L318.6 711.1L300 700L298 650Z" fill="#a0a1a2"/>
<path d="M306.3 625.5L313.6 603.7L320.8 605.9L317.9 621.1L312 628Z" fill="#b5b6b7"/>
<path d="M313.6 603.7L320.8 605.9L319.5 612L314 610Z" fill="#c9cacb"/>
<path d="M319.4 619.7L344 608.8L360 613.9L365.8 628.4L351.3 637.1L328 647.3L320 636Z" fill="#b4b5b6"/>
<path d="M330 617L344 610.5L357 615L343 622Z" fill="#c6c7c8"/>
<path d="M327 623L339 618L340 640L328 646Z" fill="#8b8c8d"/>
<path d="M340 618.5L349 621L349 643L340 640Z" fill="#a3a4a5"/>
<path d="M349 622L362 617L365.8 628.4L351.3 637.1Z" fill="#9a9b9c"/>
<path d="M310 640L326 628M312 646L327 634M314 652L328 641" stroke="#8a8b8c" stroke-width="1.2" fill="none"/>
<path d="M351.3 642.9L374.5 635.7L383.2 640L360 649Z" fill="#b7b8b9"/>
<path d="M360 649L383.2 640L383.2 653.1L365.8 666.1L352 664L338 656L351.3 642.9Z" fill="#8d8e8f"/>
<path d="M330 650L351.3 642.9L360 649L345 662L326 668Z" fill="#9b9c9d"/>
<path d="M322.3 664.7L345 662L365.8 666.1L365.8 696.6L342.6 709.7L339.7 718.4L320 712Z" fill="#818283"/>
<path d="M326 683L364 662" stroke="#b5b6b7" stroke-width="1" fill="none"/>
<path d="M352 690L364.500 683M352 696L364.500 689M352 702L362 696.500" stroke="#a4a5a6" stroke-width="1.2" fill="none"/>
<circle cx="328" cy="673.500" r="3.2" fill="#a6a7a8"/><circle cx="327.300" cy="672.800" r="1.6" fill="#bdbebf"/>
<ellipse cx="353" cy="685.800" rx="2" ry="1.300" fill="#ececec"/><ellipse cx="341" cy="695" rx="1.5" ry="1.200" fill="#e0e0e0"/>
<path d="M336 690L345 686L346 700L338 704Z" fill="#737475"/>
<path d="M321 688L330 684L334 698L342.6 716L339.7 718.4L334 719L339.7 734.4L333.9 740.2L328 734.4L326 722L321 714Z" fill="#a5a6a7"/>
<path d="M323 690L329 687.5L328.5 702L324.5 707Z" fill="#d3d4d5"/>
<path d="M327 720L334 719L339.7 734.4L333.9 740.2L328 734.4Z" fill="#b3b4b5"/>
<path d="M314 706L327 716L330 735L318 741L303 742L304 720Z" fill="#8f9091"/>
<path d="M306 726L326 717M306 732L327 723M308 738L328 729" stroke="#b0b1b2" stroke-width="1.1" fill="none"/>
<path d="M277.3 652.3C278.1 650.6 282.3 641.1 284 638C285.7 634.9 290.3 628 291.8 626.2C293.3 624.4 295.3 623 296.9 623.3C298.5 623.6 303.9 627.8 304.8 628.4C305.3 630 307.9 638.7 309 642C310.1 645.3 312.5 652.6 313.6 656C314.7 659.4 317.3 666.4 317.9 670.5C318.5 674.6 318.9 685.1 319 690C319.1 694.9 319.3 707 318.6 711.1C317.9 715.2 314.5 721.2 313 724C311.5 726.8 308 731.6 306.3 734.4C304.6 737.2 299.9 745.8 299 747.4C298.1 747.1 293 745.4 291.8 744.5C290.6 743.6 290 742.8 288.9 740.2C287.8 737.6 284.2 727.2 283 723C281.8 718.8 279.4 710.5 278.7 705.3C278 700.1 277.7 686.4 277.5 680C277.3 673.6 277.3 655.6 277.3 652.3Z" fill="#c3c4c5"/>
<path d="M280.5 651L292 629L297 626.5L303 630.5L308 648L296 673Z" fill="#bbbcbd"/>
<path d="M284 650L293 633L300 636L304 649L296 666Z" fill="#aeafb0"/>
<path d="M287 648L294 636.5L298.5 638.5L301 648L296 659Z" fill="#b9babb"/>
<path d="M278.3 655L294.7 676.3L294.7 726L290.5 740L279.3 706Z" fill="#a1a2a3"/>
<path d="M281 663L292 679L292 722L289 731L282 706Z" fill="#979899"/>
<path d="M283 690L290 694L290 716L284 708Z" fill="#a3a4a5"/>
<path d="M294.7 676.3L300 660L308 650L314 660L317.9 672L318.6 711.1L306.3 734.4L299 747.4L294.7 728Z" fill="#c9cacb"/>
<path d="M297.5 680C297.9 677.8 298.8 670.7 300 667C301.2 663.3 303.2 658.8 305 658C306.8 657.2 309.5 659 311 662C312.5 665 313.4 668.3 314 676C314.6 683.7 315.8 699.5 314.5 708C313.2 716.5 308.7 722.8 306 727C303.3 731.2 299.8 732 298.5 733" fill="none" stroke="#e0e0e1" stroke-width="1.6"/>
<path d="M301 684C301.3 682 302 674.7 303 672C304 669.3 305.8 667.3 307 668C308.2 668.7 309.4 669.8 310 676C310.6 682.2 311.5 697.7 310.5 705C309.5 712.3 305.1 717.5 304 720" fill="none" stroke="#b0b1b2" stroke-width="1"/>
<path d="M277.5 652.5C277.7 661.2 276.8 690.3 278.7 705C280.6 719.7 285.6 733.4 289 740.5C292.4 747.6 297.3 746.2 299 747.4" fill="none" stroke="#d2d3d4" stroke-width="1.2"/>
<path d="M292 744.500L299 747.400L305 737" stroke="#8f9091" stroke-width="1.2" fill="none"/>
<path d="M432.3 617.8L440.8 619.3L440.8 645.5L437.7 650.9L433.1 649.4Z" fill="#a7a8a9"/><path d="M434.3 620.4L441.8 621.2M434.3 623.8L441.8 624.6M434.3 627.2L441.8 628.0M434.3 630.6L441.8 631.4M434.3 634.0L441.8 634.8M434.3 637.4L441.8 638.2M434.3 640.8L441.8 641.6M434.3 644.2L441.8 645.0" stroke="#8e8f90" stroke-width="1" fill="none"/><path d="M412.3 605.4L416.3 603.2L436.3 615.4L432.3 617.8Z" fill="#d6d7d8"/><path d="M412.3 605.4L432.3 617.8L433.1 649.4L413.1 634.7Z" fill="#c3c4c5" stroke="#a5a6a7" stroke-width=".6"/><ellipse cx="422.3" cy="626.4" rx="6.5" ry="8.500" transform="rotate(-20 422.3 626.4)" fill="#b0b1b2" stroke="#9a9b9c" stroke-width=".7"/><ellipse cx="421.8" cy="626.4" rx="3.6" ry="5" transform="rotate(-20 421.8 626.4)" fill="#cdcecf"/><path d="M424.3 629.4L429.3 632.4M424.3 632.4L429.3 635.4M424.3 635.4L429.3 638.4" stroke="#959697" stroke-width="1.2" fill="none"/>
<g transform="rotate(20 413.8 712.4)"><ellipse cx="413.8" cy="712.4" rx="8.3" ry="10.6" fill="#a9aaab"/><ellipse cx="414.8" cy="712.9" rx="6.474000000000001" ry="8.48" fill="#c6c7c8"/><ellipse cx="415.1" cy="713.1" rx="4.565" ry="6.148" fill="#b2b3b4"/><ellipse cx="415.3" cy="713.1999999999999" rx="2.49" ry="3.392" fill="#cfd0d1"/></g>
<path d="M649 840.7L667.9 836.3L673.7 813.8L689.7 815.2L702.8 819.6L721.6 823.2L728.9 829L743.4 831.2L750.7 837.7L763.7 842.1L755 847.9L753.6 863.9L751.4 907.4L730.3 916.1L727.4 927.8L721.6 930.7L700 880L680 850Z" fill="#a7a8a9"/>
<path d="M667.9 836.3L673.7 813.8L689.7 815.2L702.8 819.6L707 848L690 845Z" fill="#b9babb"/>
<path d="M689 826L698 822L706 825L707 846L690 843Z" fill="#8e8f90"/>
<path d="M702.8 819.6L721.6 823.2L728.9 829L722 842L708 848Z" fill="#a0a1a2"/>
<path d="M715 852L739 832L750.7 837.7L753.6 863.9L735 872L716 866Z" fill="#b3b4b5"/>
<path d="M739 832L750.7 837.7L752 850L741 846Z" fill="#c6c7c8"/>
<path d="M716 866L735 872L753.6 863.9L751.4 907.4L730.3 916.1L727.4 927.8L721.6 930.7Z" fill="#8a8b8c"/>
<path d="M722 880L750 868M723 892L750 880M724 904L750 892M725 914L740 908" stroke="#b4b5b6" stroke-width="1.3" fill="none"/>
<path d="M732 884L748 877L749 884L733 891Z" fill="#d5d6d7"/>
<path d="M755 838L763.7 842.1L757 846Z" fill="#b5b6b7"/>
<path d="M633.1 846.5C633.7 842.7 638.7 842.5 640 842C641.3 841.5 646.2 840.5 649 840.7C651.8 840.9 670.8 844.1 675 845C679.2 845.9 698.7 851.4 701.3 852.3C703.9 853.2 707.1 855.3 708 856C708.9 856.7 712.3 858.3 712.9 861C713.5 863.7 715.3 884.4 716 890C716.7 895.6 721.5 927 721.6 930.7C721.7 934.4 717.7 935.3 717 936C716.3 936.7 713.9 939.4 712.9 939.4C711.9 939.4 707.5 937 704.2 936.5C700.9 936 677 933.6 672 933C667 932.4 644.3 931 641.8 929.2C639.3 927.4 640.6 912.7 640.5 910C640.4 907.3 640.8 897.2 640.3 895.8C639.8 894.4 634.6 892.5 634 892C633.4 891.5 633.2 893.6 633.1 890C633 886.4 632.5 850.3 633.1 846.5Z" fill="#c0c1c2"/>
<path d="M640.3 866.8L678 869.7L698.4 878.4L701.3 933.6L646.1 927.8Z" fill="#a4a5a6"/>
<path d="M641 867L652 884L655 922L646.1 927.8Z" fill="#b4b5b6"/>
<path d="M652 884L690 887L698.4 878.4L678 869.7L640.3 866.8Z" fill="#9b9c9d"/>
<path d="M652 884L690 887L694 928L655 922Z" fill="#a9aaab"/>
<path d="M660 896L684 898L690 926L658 920Z" fill="#b1b2b3"/>
<circle cx="684" cy="878.500" r="6.5" fill="#b7b8b9"/><circle cx="683" cy="877" r="4" fill="#c5c6c7"/>
<path d="M645 850L658 847L690 853L697 860L650 858Z" fill="#b1b2b3"/>
<path d="M657 851L680 854L683 858L660 856Z" fill="#c9cacb"/>
<path d="M698.4 878.4C699.2 876.3 701.4 868.7 703 866C704.6 863.3 706.5 861.3 708 862C709.5 862.7 710.8 863.7 712 870C713.2 876.3 714.2 890.3 715 900C715.8 909.7 717.8 922 717 928C716.2 934 712.5 935 710 936C707.5 937 703.3 934.3 702 934" fill="none" stroke="#d5d6d7" stroke-width="1.8"/>
<path d="M702 936L712 938.5L712 945.5L705 943Z" fill="#bebfc0"/>
<path d="M811.2 838.6L819.8 840.1L819.8 866.4L816.6 871.8L812 870.2Z" fill="#a7a8a9"/><path d="M813.2 841.2L820.8 842.0M813.2 844.6L820.8 845.4M813.2 848.0L820.8 848.8M813.2 851.5L820.8 852.2M813.2 854.9L820.8 855.6M813.2 858.2L820.8 859.0M813.2 861.6L820.8 862.4M813.2 865.0L820.8 865.8" stroke="#8e8f90" stroke-width="1" fill="none"/><path d="M791.2 826.2L795.2 824L815.2 836.2L811.2 838.6Z" fill="#d6d7d8"/><path d="M791.2 826.2L811.2 838.6L812 870.2L792 855.5Z" fill="#c3c4c5" stroke="#a5a6a7" stroke-width=".6"/><ellipse cx="801.2" cy="847.2" rx="6.5" ry="8.500" transform="rotate(-20 801.2 847.2)" fill="#b0b1b2" stroke="#9a9b9c" stroke-width=".7"/><ellipse cx="800.8" cy="847.2" rx="3.6" ry="5" transform="rotate(-20 800.8 847.2)" fill="#cdcecf"/><path d="M803.2 850.2L808.2 853.2M803.2 853.2L808.2 856.2M803.2 856.2L808.2 859.2" stroke="#959697" stroke-width="1.2" fill="none"/>
<g transform="rotate(25 596.5 811)"><ellipse cx="596.5" cy="811" rx="6.5" ry="8.6" fill="#a9aaab"/><ellipse cx="597.5" cy="811.5" rx="5.07" ry="6.88" fill="#c6c7c8"/><ellipse cx="597.8" cy="811.7" rx="3.575" ry="4.9879999999999995" fill="#b2b3b4"/><ellipse cx="598.0" cy="811.8" rx="1.95" ry="2.752" fill="#cfd0d1"/></g></g>
<g id="legend"><path d="M63.9 269.6L83.1 258.1L147 294.8L128.1 305.5Z" fill="#c9cacb"/>
<path d="M63.9 269.6L128.1 305.5L128.1 310L63.9 274Z" fill="#a9aaab"/>
<path d="M128.1 305.5L147 294.8L147 299.3L128.1 310Z" fill="#b8b9ba"/>
<g transform="translate(0 0)"><path d="M190.200 256.500L222 279.300L209 295.500L179.500 269.800Q176.800 263.500 181 258.800Q185.500 255 190.200 256.500Z" fill="url(#shaftg)"/><path d="M182 262.500Q184 258.500 189 258.500" stroke="#dfdfe0" stroke-width="2" fill="none"/><ellipse cx="225" cy="295" rx="20.5" ry="22.800" transform="rotate(-30 225 295)" fill="#8f9091"/><ellipse cx="226.500" cy="295.500" rx="19" ry="21.500" transform="rotate(-30 226.500 295.500)" fill="#b4b5b6"/><ellipse cx="228" cy="297" rx="14.5" ry="17" transform="rotate(-30 228 297)" fill="#9a9b9c"/><ellipse cx="229" cy="298" rx="12.5" ry="15" transform="rotate(-30 229 298)" fill="#adaeaf"/><path d="M229 291L234 289.500L236 294L240 295.500L238 300L240 305L234.500 306L232 310.500L227.500 307L223 308L224 302.500L220.500 299L226 296.500Z" fill="#7b7c7d"/><path d="M229.500 295L234 294L235.500 298.500L233 302.500L228.500 302.500L227 298.500Z" fill="#e0e0e1"/></g>
<g transform="translate(119 1.8)"><path d="M190.200 256.500L222 279.300L209 295.500L179.500 269.800Q176.800 263.500 181 258.800Q185.500 255 190.200 256.500Z" fill="url(#shaftg)"/><path d="M182 262.500Q184 258.500 189 258.500" stroke="#dfdfe0" stroke-width="2" fill="none"/><ellipse cx="225" cy="295" rx="20.5" ry="22.800" transform="rotate(-30 225 295)" fill="#8f9091"/><ellipse cx="226.500" cy="295.500" rx="19" ry="21.500" transform="rotate(-30 226.500 295.500)" fill="#b4b5b6"/><ellipse cx="228" cy="297" rx="14.5" ry="17" transform="rotate(-30 228 297)" fill="#9a9b9c"/><ellipse cx="229" cy="298" rx="12.5" ry="15" transform="rotate(-30 229 298)" fill="#adaeaf"/><path d="M229 291L234 289.500L236 294L240 295.500L238 300L240 305L234.500 306L232 310.500L227.500 307L223 308L224 302.500L220.500 299L226 296.500Z" fill="#7b7c7d"/><path d="M229.500 295L234 294L235.500 298.500L233 302.500L228.500 302.500L227 298.500Z" fill="#e0e0e1"/></g></g>
<!--PARTS-->
<!-- legend box -->
<g fill="none" stroke="#7d7d7d" stroke-width="1.2">
<rect x="47.2" y="213.4" width="341.4" height="119.2"/>
<path d="M157.6 213.4V332.6M269.6 213.4V332.6"/>
</g>
<!-- leader lines -->
<g id="leaders" fill="none" stroke="#231815" stroke-width="1.05">
<path d="M614.8 250.4L690 250"/>
<path d="M697.5 296.6H772.6"/>
<path d="M716.3 326.7L794.5 325.8"/>
<path d="M555.4 324.2L614.3 374.2"/>
<path d="M466.2 419.2H542"/>
<path d="M723.2 359.5L657.4 397.2"/>
<path d="M738.2 388.5L670.2 421.8"/>
<path d="M761.2 426.2L688.6 443.4"/>
<path d="M731.3 463H806.3"/>
<path d="M533 462L597 425.5"/>
<path d="M648.2 528L712.5 490"/>
<path d="M567 524.3V589.5"/>
<path d="M457.5 517.5V585"/>
<path d="M415.2 535.5V604"/>
<path d="M847 497.5V573.8"/>
<path d="M880.3 392.5V467.5"/>
<path d="M906.8 356.3V432.3"/>
<path d="M967 329V405"/>
<path d="M480.5 668L422.8 703.6"/>
<path d="M597.4 733V801.3"/>
<path d="M837 807H906.3"/>
<path d="M818.8 866.3H887.5"/>
</g>
<g id="dashes" fill="none" stroke="#231815" stroke-width="1.3" stroke-dasharray="5.2 3.1">
<path d="M698.3 259.5V286.5"/>
<path d="M711.3 325.5L681.3 316.3"/>
<path d="M613.5 379.3L583.2 397.5"/>
<path d="M656.6 397.6V421.5"/>
<path d="M651.5 429L608.4 458.9"/>
<path d="M677.4 449L632.4 475.3"/>
<path d="M716.8 450V458.8"/>
<path d="M713.8 468L672.5 497"/>
<path d="M599.5 424.5V466.3"/>
<path d="M714.3 492.5V522.5"/>
<path d="M841.3 497L803.8 520"/>
<path d="M908.8 437L926.3 454.5"/>
<path d="M967.5 416.5V442"/>
<path d="M459.5 588L426.3 608.8"/>
<path d="M475 623.8L441.3 643.8"/>
<path d="M416.3 634.5L366.3 667.5"/>
<path d="M355 686.3L406.3 709.5"/>
<path d="M602.5 815L650 837.5"/>
<path d="M836.3 807.3L802.5 828.8"/>
<path d="M852.5 842.5L820 863.8"/>
<path d="M796.3 850L753.8 877"/>
</g>
<!-- labels -->
<g id="labels">
<text transform="translate(97.9 250.5) scale(.98 1)">12</text>
<text transform="translate(212.9 250.5) scale(.98 1)">13</text>
<text transform="translate(330.4 250.5) scale(.98 1)">18</text>
<text transform="translate(563.4 261.8) scale(.98 1)">10</text>
<text transform="translate(778.4 307.5) scale(.98 1)">11</text>
<text transform="translate(807.3 339.3) scale(.98 1)">9</text>
<text transform="translate(529.3 325.0) scale(.98 1)">9</text>
<text transform="translate(727.4 364.4) scale(.98 1)">13</text>
<text transform="translate(745.9 399.5) scale(.98 1)">14</text>
<text transform="translate(765.9 435.0) scale(.98 1)">15</text>
<text transform="translate(810.9 473.5) scale(.98 1)">14</text>
<text transform="translate(856.4 385.0) scale(.98 1)">16</text>
<text transform="translate(894.1 346.3) scale(.98 1)">9</text>
<text transform="translate(947.7 319.0) scale(.98 1)">17</text>
<text transform="translate(417.3 432.6) scale(.98 1)">22</text>
<text transform="translate(488.9 496.8) scale(.98 1)">12</text>
<text transform="translate(541.8 512.5) scale(.98 1)">21</text>
<text transform="translate(590.9 556.8) scale(.98 1)">12</text>
<text transform="translate(434.4 505.8) scale(.98 1)">18</text>
<text transform="translate(390.2 523.0) scale(.98 1)">19</text>
<text transform="translate(837.8 610.0) scale(.98 1)">9</text>
<text transform="translate(480.8 656.3) scale(.98 1)">20</text>
<text transform="translate(577.8 720.6) scale(.98 1)">20</text>
<text transform="translate(917.6 817.5) scale(.98 1)">18</text>
<text transform="translate(897.2 877.0) scale(.98 1)">19</text>
</g>
<!-- FR arrow -->
<path d="M86.1 973.7L96.300 978.400L138.200 965.300L161.100 975.200L119.800 988.400L128.200 991.900L86.100 990.900Z" fill="#000"/>
<text x="42" y="1027.7" style="font-family:'DejaVu Sans Condensed','DejaVu Sans',sans-serif;font-size:37.6px;fill:#000;stroke:#000;stroke-width:.45px;letter-spacing:.3px">FR.</text>
</svg>
</body>
</html>
